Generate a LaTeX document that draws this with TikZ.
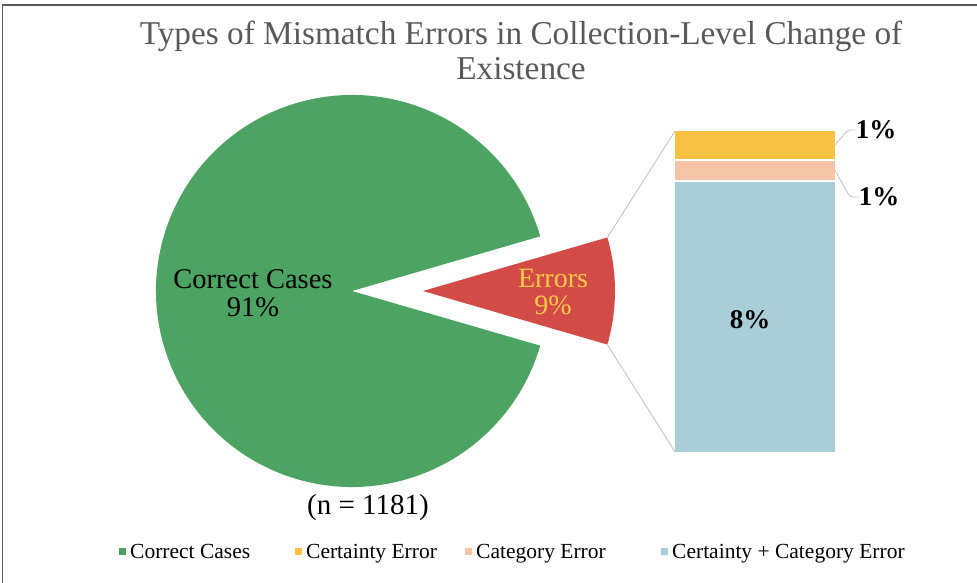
\documentclass[tikz,border=0pt]{standalone}
\usepackage{fontspec}
\setmainfont{Liberation Serif}
\definecolor{okgreen}{HTML}{4DA361}
\definecolor{errred}{HTML}{D24B47}
\definecolor{certyellow}{HTML}{F5C142}
\definecolor{catpeach}{HTML}{F5C4A6}
\definecolor{bothblue}{HTML}{A9CED8}
\definecolor{titlegray}{HTML}{595959}
\definecolor{framegray}{HTML}{5A5A5A}
\definecolor{leadergray}{HTML}{C4C4C4}
\definecolor{labelyellow}{HTML}{F6CB45}
\tikzset{
  segment/.style={fill=#1, draw=none, minimum width=160pt, inner sep=0pt, outer sep=0pt},
  leader/.style={draw=leadergray, line width=0.9pt},
  pct/.style={font=\fontsize{27}{28}\selectfont\bfseries, inner sep=0pt},
  legmark/.style={fill=#1, draw=none, minimum size=7pt, inner sep=0pt},
  legtext/.style={font=\fontsize{21.5}{22}\selectfont, anchor=base west, inner sep=0pt},
}
\begin{document}
\begin{tikzpicture}[x=1pt,y=1pt]
\useasboundingbox (0,0) rectangle (977,583);
% frame
\draw[framegray, line width=1.6pt] (2.5,0) -- (2.5,578) -- (977,578);

% title
\node[font=\fontsize{33.3}{35}\selectfont, text=titlegray, align=center, inner sep=0pt] (title) at (521,533)
  {Types of Mismatch Errors in Collection-Level Change of\\Existence};

% main pie: correct cases
\fill[okgreen] (352,292) -- ++(16.2:196pt) arc[start angle=16.2, end angle=343.8, radius=196pt] -- cycle;
% exploded slice: errors
\coordinate (errc) at (423,292);
\fill[errred] (errc) -- ++(16.2:192pt) coordinate (errtop)
  arc[start angle=16.2, end angle=-16.2, radius=192pt] coordinate (errbot) -- cycle;

\node[font=\fontsize{28.5}{28}\selectfont, align=center, inner sep=0pt] (correct) at (253,290)
  {Correct Cases\\91\%};
\node[font=\fontsize{28}{27}\selectfont, text=labelyellow, align=center, inner sep=0pt] (errors) at (553,291)
  {Errors\\9\%};
\node[font=\fontsize{29}{28}\selectfont, inner sep=0pt] (n) at (368,75) {(n = 1181)};

% stacked bar of the error breakdown
\node[segment=certyellow, minimum height=28pt] (bcert) at (755,438) {};
\node[segment=catpeach, minimum height=19pt] (bcat) at (755,412.5) {};
\node[segment=bothblue, minimum height=270pt] (bboth) at (755,266) {};

% connectors from slice to bar
\draw[leader] (errtop) -- (bcert.north west);
\draw[leader] (errbot) -- (bboth.south west);

% value labels
\node[pct] (lcert) at (876,453) {1\%};
\node[pct] (lcat) at (879,386) {1\%};
\node[pct] (lboth) at (750,263) {8\%};
\coordinate (kcert) at (848,453);
\coordinate (kcat) at (850,386);
\draw[leader, rounded corners=3pt] (bcert.east) -- (kcert) -- (lcert.west);
\draw[leader, rounded corners=3pt] (bcat.east) -- (kcat) -- (lcat.west);

% legend
\node[legmark=okgreen] (m1) at (122,31) {};
\node[legtext] (t1) at (130,24) {Correct Cases};
\node[legmark=certyellow] (m2) at (298,31) {};
\node[legtext] (t2) at (306,24) {Certainty Error};
\node[legmark=catpeach] (m3) at (468,31) {};
\node[legtext] (t3) at (476,24) {Category Error};
\node[legmark=bothblue] (m4) at (664,31) {};
\node[legtext] (t4) at (672,24) {Certainty + Category Error};
\end{tikzpicture}
\end{document}
